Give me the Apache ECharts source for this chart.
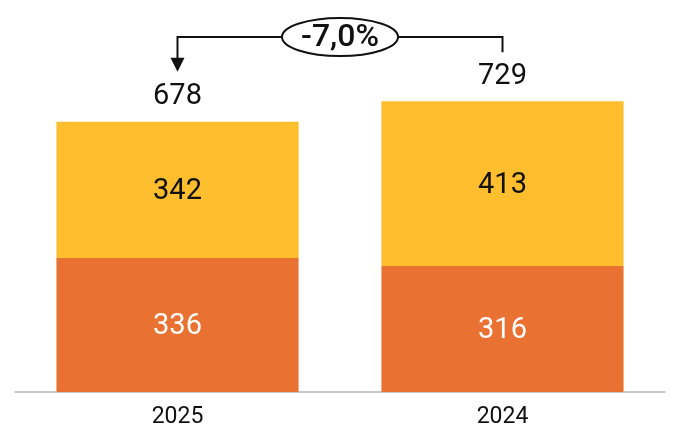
<!DOCTYPE html>
<html><head><meta charset="utf-8">
<script src="https://cdn.jsdelivr.net/npm/echarts@6/dist/echarts.min.js"></script>
<style>html,body{margin:0;padding:0;background:#fff}#c{width:675px;height:429px}</style>
</head><body><div id="c"></div>
<script>
const categories = ['2025', '2024'];
const bottomValues = [336, 316];
const topValues = [342, 413];
const totals = [678, 729];
const changeLabel = '-7,0%';

const FONT = 'Roboto';
const chart = echarts.init(document.getElementById('c'), null, {renderer: 'canvas'});
chart.setOption({
  animation: false,
  grid: {left: 15, right: 10, top: 73, bottom: 36},
  xAxis: {
    type: 'category', data: categories,
    axisLine: {lineStyle: {color: '#c8c8c8', width: 2}},
    axisTick: {show: false},
    axisLabel: {color: '#111', fontSize: 23, fontFamily: FONT, margin: 14}
  },
  yAxis: {type: 'value', min: 0, max: 800, show: false, splitLine: {show: false}},
  series: [
    {type: 'bar', stack: 's', data: bottomValues, barWidth: '74.5%',
     itemStyle: {color: '#E97132'},
     label: {show: true, position: 'inside', offset: [0, 2], color: '#fff', fontSize: 29, fontFamily: FONT}},
    {type: 'bar', stack: 's', data: topValues,
     itemStyle: {color: '#FFBE2E'},
     label: {show: true, position: 'inside', offset: [0, 2], color: '#111', fontSize: 29, fontFamily: FONT}},
    {type: 'bar', stack: 's', data: totals.map(() => 0),
     itemStyle: {color: 'transparent'},
     label: {show: true, position: 'top', distance: 10, color: '#111', fontSize: 29, fontFamily: FONT,
             formatter: p => String(totals[p.dataIndex])}}
  ]
});

const p1 = chart.convertToPixel({gridIndex: 0}, [0, totals[0]]);
const p2 = chart.convertToPixel({gridIndex: 0}, [1, totals[1]]);
const lineY = 37;
const midX = (p1[0] + p2[0]) / 2;
const rx = 58, ry = 19;
const tipY = p1[1] - 50;
const stroke = {stroke: '#111', lineWidth: 2, fill: null};
chart.setOption({
  graphic: [
    {type: 'polyline', shape: {points: [[p1[0], tipY - 12], [p1[0], lineY], [midX - rx, lineY]]}, style: stroke},
    {type: 'polyline', shape: {points: [[midX + rx, lineY], [p2[0], lineY], [p2[0], p2[1] - 49]]}, style: stroke},
    {type: 'polygon', shape: {points: [[p1[0] - 7, tipY - 14], [p1[0] + 7, tipY - 14], [p1[0], tipY]]}, style: {fill: '#111'}},
    {type: 'ellipse', shape: {cx: midX, cy: lineY, rx: rx, ry: ry}, style: {stroke: '#111', lineWidth: 2, fill: '#fff'}},
    {type: 'text', x: midX, y: lineY + 1, style: {text: changeLabel, x: 0, y: 0, align: 'center', verticalAlign: 'middle',
      fill: '#111', font: '500 32px Roboto'}}
  ]
});
</script></body></html>
